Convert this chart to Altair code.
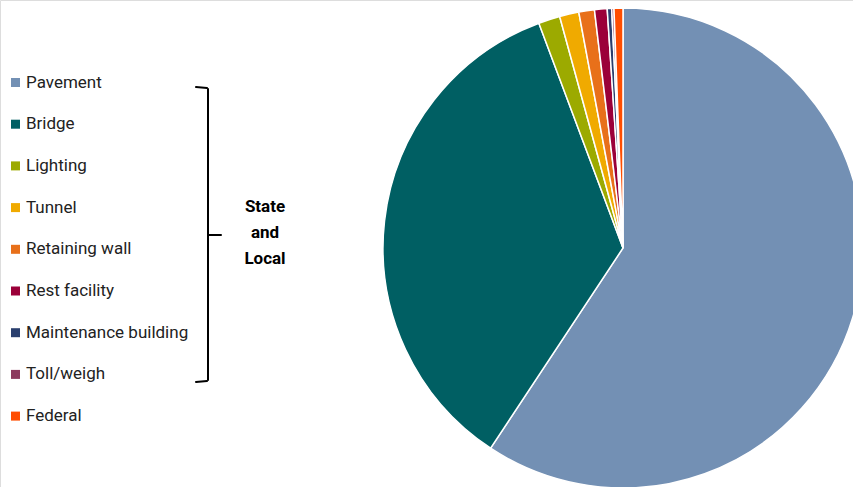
import altair as alt
import pandas as pd

categories = ["Pavement", "Bridge", "Lighting", "Tunnel", "Retaining wall",
              "Rest facility", "Maintenance building", "Toll/weigh", "Federal"]
shares = [59.3, 35.0, 1.45, 1.3, 1.05, 0.85, 0.3, 0.15, 0.6]
colors = ["#7390B4", "#005F63", "#9CAA00", "#F0AA00", "#E8701A",
          "#9B0039", "#2A3F6E", "#8C3A5E", "#FF4D00"]
group_label = ["State", "and", "Local"]

df = pd.DataFrame({"category": categories, "share": shares,
                   "rank": list(range(len(categories)))})
one = pd.DataFrame({"k": [0]})
FONT = "Roboto"

pie = alt.Chart(df).mark_arc(outerRadius=240, stroke="white", strokeWidth=1.5).encode(
    theta=alt.Theta("share:Q", stack=True),
    order=alt.Order("rank:Q"),
    color=alt.Color(
        "category:N",
        sort=categories,
        scale=alt.Scale(domain=categories, range=colors),
        legend=alt.Legend(
            title=None, orient="none", legendX=7, legendY=74, padding=0,
            symbolType="square", symbolSize=81, symbolStrokeWidth=0,
            labelFont=FONT, labelFontSize=17, labelColor="#222222",
            labelOffset=2, rowPadding=23.7, labelLimit=300,
        ),
    ),
    x=alt.value(623),
    y=alt.value(248),
)

def rule(x, x2, y, y2):
    return alt.Chart(one).mark_rule(color="black", strokeWidth=2, strokeCap="round").encode(
        x=alt.value(x), x2=alt.value(x2), y=alt.value(y), y2=alt.value(y2)
    )

brace = alt.layer(
    rule(196, 207, 87, 88),
    rule(208, 208, 89, 380),
    rule(196, 207, 382, 381),
    rule(208, 221, 235, 235),
)

label = alt.Chart(one).mark_text(
    font=FONT, fontSize=17, fontWeight="bold", color="black",
    lineBreak="|", lineHeight=26, align="center", baseline="middle",
).encode(
    x=alt.value(265), y=alt.value(207),
    text=alt.value("|".join(group_label)),
)

chart = alt.layer(pie, brace, label).properties(
    width=853, height=487, padding=0, autosize=alt.AutoSizeParams(type="none")
).configure_view(stroke=None).configure(background="white")

chart.save("out.html", embed_options={"renderer": "svg", "actions": False})
